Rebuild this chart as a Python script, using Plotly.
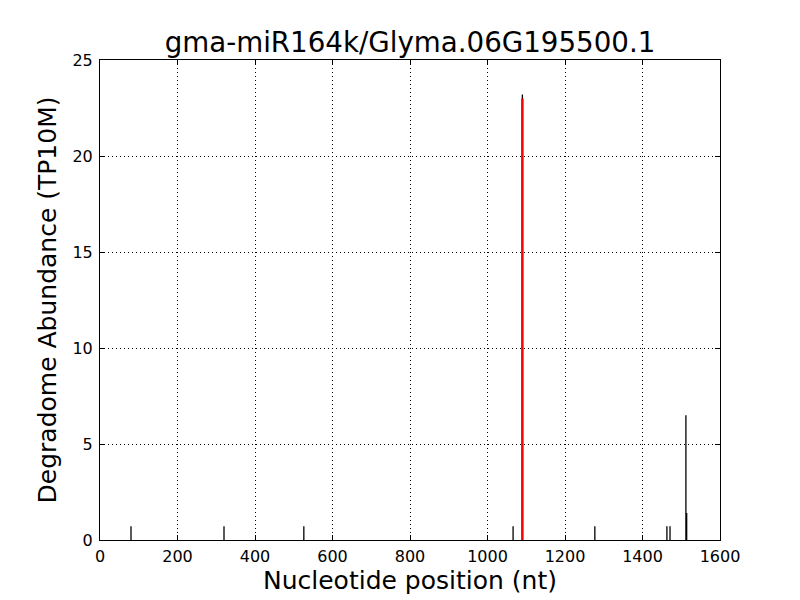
import plotly.graph_objects as go

positions = [80, 320, 526, 1066, 1090, 1277, 1463, 1471, 1512, 1514]
abundance = [0.71, 0.71, 0.71, 0.71, 23.2, 0.71, 0.71, 0.71, 6.5, 1.4]
cleave_pos = [1090]
cleave_val = [23.0]
x_ticks = [0, 200, 400, 600, 800, 1000, 1200, 1400, 1600]
y_ticks = [0, 5, 10, 15, 20, 25]

xs, ys = [], []
for p, a in zip(positions, abundance):
    xs += [p, p, None]
    ys += [0, a, None]
cx, cy = [], []
for p, a in zip(cleave_pos, cleave_val):
    cx += [p, p, None]
    cy += [0, a, None]

fig = go.Figure()
fig.add_trace(go.Scatter(x=xs, y=ys, mode="lines", line=dict(color="black", width=1.3),
                         hoverinfo="skip", showlegend=False))
fig.add_trace(go.Scatter(x=cx, y=cy, mode="lines", line=dict(color="red", width=2.5),
                         hoverinfo="skip", showlegend=False))

font = "DejaVu Sans"
axis_common = dict(showline=True, linecolor="black", linewidth=1, mirror="ticks",
                   ticks="inside", ticklen=5, tickcolor="black",
                   showgrid=True, gridcolor="black", griddash="1px,3px", gridwidth=1,
                   zeroline=False, tickfont=dict(family=font, size=16, color="black"))
fig.update_layout(
    width=792, height=592, plot_bgcolor="white", paper_bgcolor="white",
    margin=dict(l=92, r=80, t=52, b=60),
    title=dict(text="gma-miR164k/Glyma.06G195500.1", xref="paper", x=0.5, xanchor="center",
               y=1 - 34/592, yanchor="middle", font=dict(family=font, size=27.7, color="black")),
    xaxis=dict(range=[0, 1600], tickvals=x_ticks, ticklabelstandoff=2,
               title=dict(text="Nucleotide position (nt)", font=dict(family=font, size=25, color="black"), standoff=4),
               **axis_common),
    yaxis=dict(range=[0, 25], tickvals=y_ticks, ticklabelstandoff=3,
               title=dict(text="Degradome Abundance (TP10M)", font=dict(family=font, size=25, color="black"), standoff=8),
               **axis_common),
)
fig.write_html("out.html")
